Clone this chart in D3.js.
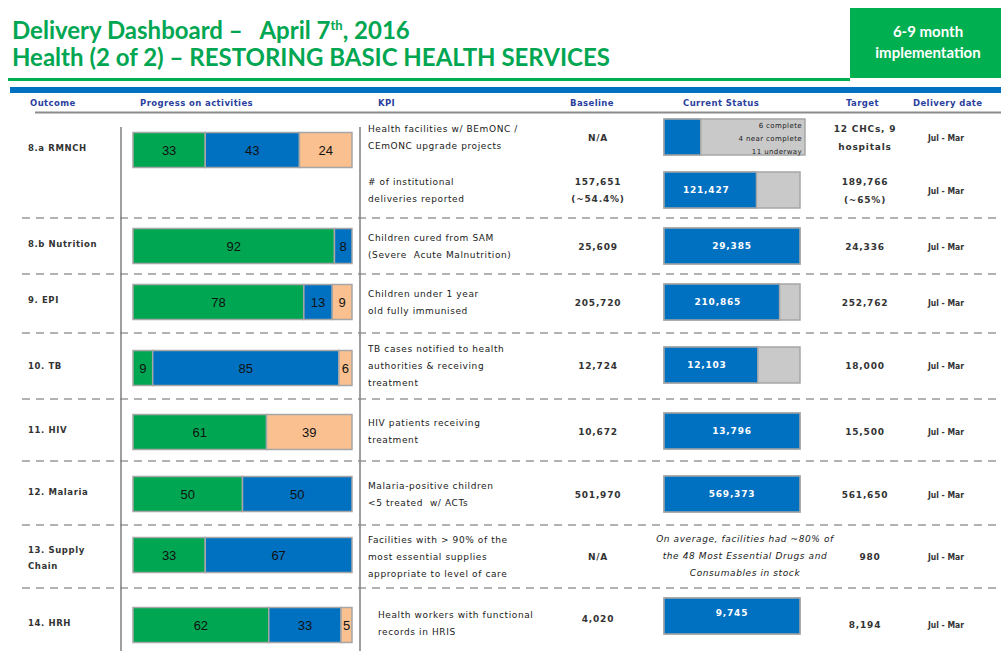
<!DOCTYPE html>
<html>
<head>
<meta charset="utf-8">
<script src="https://cdn.jsdelivr.net/npm/d3@7"></script>
<style>
  body { margin: 0; background: #fff; }
  svg { display: block; }
</style>
</head>
<body>
<div id="chart"></div>
<script>
/* global d3 */

// Dashboard data

const outcomes = ["8.a RMNCH", "8.b Nutrition", "9. EPI", "10. TB", "11. HIV", "12. Malaria", "13. Supply|Chain", "14. HRH"];
const progressComplete = [33, 92, 78, 9, 61, 50, 33, 62];
const progressOnTrack = [43, 8, 13, 85, 0, 50, 67, 33];
const progressDelayed = [24, 0, 9, 6, 39, 0, 0, 5];

const kpis = [
    "Health facilities w/ BEmONC /|CEmONC upgrade projects",
    "# of institutional|deliveries reported",
    "Children cured from SAM|(Severe\u00a0 Acute Malnutrition)",
    "Children under 1 year|old fully immunised",
    "TB cases notified to health|authorities & receiving|treatment",
    "HIV patients receiving|treatment",
    "Malaria-positive children|<5 treated\u00a0 w/ ACTs",
    "Facilities with > 90% of the|most essential supplies|appropriate to level of care",
    "Health workers with functional|records in HRIS"
];
const baselines = ["N/A", "157,651|(~54.4%)", "25,609", "205,720", "12,724", "10,672", "501,970", "N/A", "4,020"];
const currentValues = ["", "121,427", "29,385", "210,865", "12,103", "13,796", "569,373", null, "9,745"];
const currentShare = [0.27, 0.68, 1, 0.85, 0.69, 1, 1, null, 1];
const currentNotes = ["6 complete|4 near complete|11 underway", "", "", "", "", "", "",
    "On average, facilities had ~80% of|the 48 Most Essential Drugs and|Consumables in stock", ""];
const targets = ["12 CHCs, 9|hospitals", "189,766|(~65%)", "24,336", "252,762", "18,000", "15,500", "561,650", "980", "8,194"];
const deliveryDates = ["Jul - Mar", "Jul - Mar", "Jul - Mar", "Jul - Mar", "Jul - Mar", "Jul - Mar", "Jul - Mar", "Jul - Mar", "Jul - Mar"];

const headers = ["Outcome", "Progress on activities", "KPI", "Baseline", "Current Status", "Target", "Delivery date"];

// layout
const width = 1001;
const height = 651;
const green = "#00a651";
const blue = "#0070c0";
const peach = "#fac090";
const grey = "#c9c9c9";
const ink = "#1a1a1a";

const outcomeMid = [150, 246, 302, 368, 432, 494, 555, 625];
const kpiMid = [137, 190, 246, 302, 365, 431, 494, 556, 620];
const separators = [218, 274, 333, 399, 461, 525, 588];
const headerX = [30, 140, 378, 570, 683, 846, 913];

const svg = d3.select("#chart")
    .append("svg")
    .attr("width", width)
    .attr("height", height);

// Title block
const title = svg.append("g")
    .attr("font-family", "Lato, sans-serif")
    .attr("font-weight", "bold")
    .attr("font-size", 24)
    .attr("fill", green);

const t1 = title.append("text").attr("x", 12).attr("y", 39);
t1.append("tspan").text("Delivery Dashboard \u2013\u00a0\u00a0\u00a0April 7");
t1.append("tspan").attr("font-size", 13).attr("dy", -9).text("th");
t1.append("tspan").attr("dy", 9).text(", 2016");

title.append("text").attr("x", 12).attr("y", 66)
    .text("Health (2 of 2) \u2013 RESTORING BASIC HEALTH SERVICES");

svg.append("rect")
    .attr("x", 850).attr("y", 8)
    .attr("width", 151).attr("height", 70)
    .attr("fill", "#00b050");

svg.append("g")
    .attr("font-family", "Lato, sans-serif")
    .attr("font-weight", "bold")
    .attr("font-size", 15)
    .attr("fill", "#fff")
    .attr("text-anchor", "middle")
    .selectAll("text")
    .data(["6-9 month", "implementation"])
    .join("text")
    .attr("x", 928)
    .attr("y", (d, i) => 37 + i * 21)
    .text(d => d);

svg.append("rect").attr("x", 8).attr("y", 78).attr("width", 842).attr("height", 3).attr("fill", "#00b050");
svg.append("rect").attr("x", 10).attr("y", 87).attr("width", 991).attr("height", 6).attr("fill", blue);

// Column headers
svg.append("g")
    .attr("font-family", "DejaVu Sans, sans-serif")
    .attr("font-weight", "bold")
    .attr("font-size", 8.5)
    .attr("fill", "#2b3f9e")
    .selectAll("text")
    .data(headers)
    .join("text")
    .attr("x", (d, i) => headerX[i])
    .attr("y", 106)
    .attr("letter-spacing", 0.4)
    .text(d => d);

svg.append("line")
    .attr("x1", 35).attr("x2", width)
    .attr("y1", 112.5).attr("y2", 112.5)
    .attr("stroke", "#8c8c8c").attr("stroke-width", 2);

// Grid lines
svg.append("g")
    .selectAll("line")
    .data(separators)
    .join("line")
    .attr("x1", 22).attr("x2", width)
    .attr("y1", d => d).attr("y2", d => d)
    .attr("stroke", "#9a9a9a")
    .attr("stroke-width", 1.5)
    .attr("stroke-dasharray", "8,6");

svg.append("g")
    .selectAll("line")
    .data([121, 360])
    .join("line")
    .attr("x1", d => d).attr("x2", d => d)
    .attr("y1", 127).attr("y2", height)
    .attr("stroke", "#7f7f7f")
    .attr("stroke-width", 1.5);

// helper for multi-line text centred on a y
function multiline(g, str, x, y, step) {
    const lines = str.split("|");
    const top = y - (lines.length - 1) * step / 2;
    lines.forEach((ln, i) => {
        g.append("tspan").attr("x", x).attr("y", top + i * step + 3.5).text(ln);
    });
}

// Outcome labels
const outG = svg.append("g")
    .attr("font-family", "DejaVu Sans, sans-serif")
    .attr("font-weight", "bold")
    .attr("font-size", 8.5)
    .attr("letter-spacing", 0.6)
    .attr("fill", "#333");
outcomes.forEach((o, i) => {
    const y = i === 6 ? outcomeMid[i] + 2 : outcomeMid[i] - 3;
    multiline(outG.append("text"), o, 28, y, 16);
});

// Progress bars
const x = d3.scaleLinear().domain([0, 100]).range([133, 352]);
const barH = 35;
const series = [
    { key: "complete", values: progressComplete, color: green },
    { key: "ontrack", values: progressOnTrack, color: blue },
    { key: "delayed", values: progressDelayed, color: peach }
];
const stackData = outcomes.map((o, i) => ({
    complete: progressComplete[i], ontrack: progressOnTrack[i], delayed: progressDelayed[i], i: i
}));
const stacked = d3.stack().keys(series.map(s => s.key))(stackData);

const bars = svg.append("g");
stacked.forEach((layer, li) => {
    layer.forEach(seg => {
        const v = seg[1] - seg[0];
        if (v <= 0) return;
        const i = seg.data.i;
        const y0 = outcomeMid[i] - barH / 2;
        bars.append("rect")
            .attr("x", x(seg[0]))
            .attr("y", y0)
            .attr("width", x(seg[1]) - x(seg[0]))
            .attr("height", barH)
            .attr("fill", series[li].color)
            .attr("stroke", "#a6a6a6")
            .attr("stroke-width", 1.5);
        bars.append("text")
            .attr("x", (x(seg[0]) + x(seg[1])) / 2)
            .attr("y", outcomeMid[i] + 5)
            .attr("text-anchor", "middle")
            .attr("font-family", "Liberation Sans, Arial, sans-serif")
            .attr("font-size", 13)
            .attr("fill", "#111")
            .text(v);
    });
});

// KPI text
const kpiG = svg.append("g")
    .attr("font-family", "DejaVu Sans, sans-serif")
    .attr("font-size", 9)
    .attr("letter-spacing", 0.6)
    .attr("fill", ink);
kpis.forEach((k, i) => {
    const kx = i === 8 ? 378 : 368;
    multiline(kpiG.append("text"), k, kx, kpiMid[i] + (i === 8 ? 3 : 0), 17);
});

// Baseline and target numbers
const numG = svg.append("g")
    .attr("font-family", "DejaVu Sans, sans-serif")
    .attr("font-weight", "bold")
    .attr("font-size", 9)
    .attr("letter-spacing", 0.8)
    .attr("fill", "#333")
    .attr("text-anchor", "middle");
baselines.forEach((b, i) => {
    multiline(numG.append("text"), b, 598, kpiMid[i] + (i === 8 ? -2 : 0), 17);
});
targets.forEach((t, i) => {
    multiline(numG.append("text"), t, i === 7 ? 870 : 865, kpiMid[i] + (i === 8 ? 4 : 0), 18);
});

// Delivery dates
svg.append("g")
    .attr("font-family", "DejaVu Sans Condensed, DejaVu Sans, sans-serif")
    .attr("font-weight", "bold")
    .attr("font-size", 8.5)
    .attr("fill", "#333")
    .attr("text-anchor", "middle")
    .selectAll("text")
    .data(deliveryDates)
    .join("text")
    .attr("x", 946)
    .attr("y", (d, i) => kpiMid[i] + 3.5 + (i === 8 ? 4 : 0))
    .text(d => d);

// Current status bars
const sx = d3.scaleLinear().domain([0, 1]).range([664, 800]);
const statusH = 36;
const statusG = svg.append("g");
currentShare.forEach((s, i) => {
    if (s === null) return;
    const yc = i === 8 ? 616 : kpiMid[i];
    const y0 = yc - statusH / 2;
    statusG.append("rect")
        .attr("x", sx(0)).attr("y", y0)
        .attr("width", sx(1) - sx(0) + (i === 0 ? 5 : 0)).attr("height", statusH)
        .attr("fill", grey)
        .attr("stroke", "#a6a6a6").attr("stroke-width", 1.5);
    statusG.append("rect")
        .attr("x", sx(0)).attr("y", y0)
        .attr("width", sx(s) - sx(0)).attr("height", statusH)
        .attr("fill", blue)
        .attr("stroke", "#a6a6a6").attr("stroke-width", 1.5);
    if (currentValues[i]) {
        statusG.append("text")
            .attr("x", s < 1 ? (sx(0) + sx(s)) / 2 - 4 : (sx(0) + sx(1)) / 2)
            .attr("y", yc + (i === 8 ? 0 : 3))
            .attr("text-anchor", "middle")
            .attr("font-family", "DejaVu Sans, sans-serif")
            .attr("font-weight", "bold")
            .attr("font-size", 9)
            .attr("letter-spacing", 0.8)
            .attr("fill", "#fff")
            .text(currentValues[i]);
    }
});

// Notes inside / instead of status bar
const noteG = svg.append("g")
    .attr("font-family", "DejaVu Sans, sans-serif")
    .attr("fill", ink);
multiline(noteG.append("text")
    .attr("font-size", 7)
    .attr("letter-spacing", 0.4)
    .attr("text-anchor", "end"), currentNotes[0], 802, kpiMid[0], 13);
multiline(noteG.append("text")
    .attr("font-size", 9)
    .attr("font-style", "italic")
    .attr("letter-spacing", 0.6)
    .attr("text-anchor", "middle"), currentNotes[7], 745, kpiMid[7] - 1, 17);
</script>
</body>
</html>
